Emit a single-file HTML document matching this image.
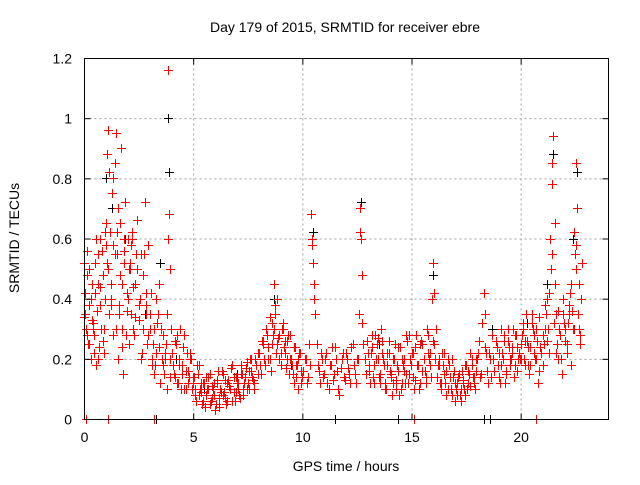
<!DOCTYPE html>
<html><head><meta charset="utf-8"><style>
body{margin:0;background:#fff;width:640px;height:480px;overflow:hidden}
text{font-family:"Liberation Sans",sans-serif;font-size:14px;fill:#000}
</style></head><body>
<svg id="chart" width="640" height="480" xmlns="http://www.w3.org/2000/svg">
<rect width="640" height="480" fill="#fff"/>
<text x="345" y="32" text-anchor="middle">Day 179 of 2015, SRMTID for receiver ebre</text>
<g id="grid"></g>
<g id="black" shape-rendering="crispEdges"></g>
<g id="red" shape-rendering="crispEdges"></g>
<rect x="84.5" y="58.5" width="524" height="361" fill="none" stroke="#000"/>
<g id="ticks"></g>
<text x="346" y="471" text-anchor="middle">GPS time / hours</text>
<text transform="translate(19,238) rotate(-90)" text-anchor="middle">SRMTID / TECUs</text>
</svg>
<script>
const xTicks=[0,5,10,15,20];
const yTicks=[0,0.2,0.4,0.6,0.8,1,1.2];
const yTickLabels=["0","0.2","0.4","0.6","0.8","1","1.2"];
const redX=[0,0.05,0.1,0.15,0.2,0.25,0.3,0.35,0.4,0.45,0.5,0.55,0.6,0.65,0.7,0.75,0.8,0.85,0.9,0.95,1.0,1.05,1.1,1.15,1.2,1.25,1.3,1.35,1.4,1.45,1.5,1.55,1.6,1.65,1.7,1.75,1.8,1.85,1.9,1.95,2.0,2.05,2.1,2.15,2.2,2.25,2.3,2.4,2.5,2.6,2.7,2.8,2.85,2.9,3.0,3.1,3.2,3.3,3.4,3.5,3.6,3.7,3.8,3.85,3.9,3.95,4.0,4.1,4.2,4.3,4.4,4.5,4.6,4.7,4.8,4.9,5.0,5.1,5.2,5.3,5.4,5.5,5.6,5.7,5.8,5.9,6.0,6.1,6.2,6.3,6.4,6.5,6.6,6.7,6.8,6.9,7.0,7.1,7.2,7.3,7.4,7.5,7.6,7.7,7.8,7.9,8.0,8.1,8.2,8.3,8.4,8.5,8.6,8.7,8.75,8.8,8.9,9.0,9.1,9.2,9.3,9.4,9.5,9.6,9.7,9.8,9.9,10.0,10.1,10.2,10.3,10.4,10.45,10.5,10.55,10.6,10.7,10.8,10.9,11.0,11.1,11.2,11.3,11.4,11.5,11.6,11.7,11.8,11.9,12.0,12.1,12.2,12.3,12.4,12.5,12.6,12.65,12.7,12.75,12.8,12.9,13.0,13.1,13.2,13.3,13.4,13.5,13.6,13.7,13.8,13.9,14.0,14.1,14.2,14.3,14.4,14.5,14.6,14.7,14.8,14.9,15.0,15.1,15.2,15.3,15.4,15.5,15.6,15.7,15.8,15.9,16.0,16.05,16.1,16.2,16.3,16.4,16.5,16.6,16.7,16.8,16.9,17.0,17.1,17.2,17.3,17.4,17.5,17.6,17.7,17.8,17.9,18.0,18.1,18.2,18.3,18.35,18.4,18.5,18.6,18.7,18.8,18.9,19.0,19.1,19.2,19.3,19.4,19.5,19.6,19.7,19.8,19.9,20.0,20.1,20.2,20.3,20.4,20.5,20.6,20.7,20.8,20.9,21.0,21.1,21.2,21.3,21.4,21.45,21.5,21.55,21.6,21.7,21.8,21.9,22.0,22.1,22.2,22.3,22.4,22.5,22.55,22.6,22.65,22.7,22.8,0.1,1.1,3.2,15.1,20.7];
const redY=[0.52,0.35,0.3,0.56,0.25,0.38,0.2,0.45,0.32,0.28,0.42,0.18,0.36,0.55,0.24,0.6,0.3,0.48,0.22,0.4,0.58,0.88,0.96,0.35,0.62,0.45,0.75,0.28,0.85,0.95,0.55,0.2,0.38,0.65,0.9,0.3,0.15,0.52,0.72,0.42,0.6,0.25,0.5,0.35,0.62,0.44,0.28,0.55,0.33,0.2,0.48,0.72,0.38,0.25,0.3,0.18,0.15,0.22,0.35,0.12,0.28,0.2,0.1,1.16,0.68,0.5,0.3,0.15,0.25,0.12,0.3,0.18,0.1,0.22,0.14,0.2,0.12,0.08,0.15,0.1,0.05,0.12,0.08,0.14,0.06,0.1,0.03,0.12,0.07,0.16,0.09,0.05,0.13,0.1,0.18,0.06,0.12,0.08,0.15,0.1,0.17,0.12,0.2,0.14,0.1,0.18,0.22,0.15,0.25,0.18,0.28,0.2,0.32,0.45,0.38,0.22,0.27,0.18,0.3,0.22,0.26,0.15,0.2,0.12,0.18,0.1,0.22,0.14,0.2,0.12,0.25,0.68,0.6,0.52,0.45,0.35,0.18,0.12,0.2,0.15,0.22,0.1,0.18,0.13,0.24,0.16,0.08,0.2,0.14,0.22,0.17,0.12,0.25,0.15,0.2,0.35,0.7,0.6,0.48,0.25,0.15,0.22,0.12,0.28,0.18,0.25,0.14,0.3,0.2,0.1,0.22,0.16,0.08,0.2,0.13,0.24,0.1,0.18,0.12,0.26,0.15,0.22,0.1,0.28,0.18,0.12,0.25,0.16,0.3,0.2,0.14,0.52,0.42,0.3,0.18,0.12,0.22,0.15,0.08,0.18,0.1,0.14,0.06,0.12,0.08,0.16,0.1,0.18,0.12,0.22,0.14,0.1,0.2,0.26,0.15,0.42,0.35,0.22,0.12,0.2,0.28,0.16,0.24,0.14,0.3,0.2,0.12,0.26,0.18,0.22,0.14,0.28,0.2,0.25,0.32,0.18,0.26,0.15,0.35,0.22,0.3,0.12,0.24,0.18,0.3,0.4,0.22,0.5,0.85,0.94,0.65,0.35,0.2,0.28,0.15,0.32,0.22,0.38,0.18,0.3,0.55,0.85,0.7,0.45,0.25,0.52,0,0,0,0,0];
const redX2=[0.05,0.15,0.25,0.35,0.45,0.55,0.65,0.75,0.85,0.95,1.05,1.15,1.25,1.35,1.45,1.55,1.65,1.75,1.85,1.95,2.05,2.15,2.25,2.35,2.45,2.55,2.65,2.75,2.85,2.95,3.05,3.15,3.25,3.35,3.45,3.55,3.65,3.75,3.85,3.95,
4.05,4.15,4.25,4.35,4.45,4.55,4.65,4.75,4.85,4.95,5.05,5.15,5.25,5.35,5.45,5.55,5.65,5.75,5.85,5.95,6.05,6.15,6.25,6.35,6.45,6.55,6.65,6.75,6.85,6.95,7.05,7.15,7.25,7.35,7.45,7.55,7.65,7.75,7.85,7.95,
8.05,8.15,8.25,8.35,8.45,8.55,8.65,8.75,8.85,8.95,9.05,9.15,9.25,9.35,9.45,9.55,9.65,9.75,9.85,9.95,10.05,10.15,10.25,10.35,10.45,10.55,10.65,10.75,10.85,10.95,11.05,11.15,11.25,11.35,11.45,11.55,11.65,11.75,11.85,11.95,
12.05,12.15,12.25,12.35,12.45,12.55,12.65,12.75,12.85,12.95,13.05,13.15,13.25,13.35,13.45,13.55,13.65,13.75,13.85,13.95,14.05,14.15,14.25,14.35,14.45,14.55,14.65,14.75,14.85,14.95,15.05,15.15,15.25,15.35,15.45,15.55,15.65,15.75,15.85,15.95,
16.05,16.15,16.25,16.35,16.45,16.55,16.65,16.75,16.85,16.95,17.05,17.15,17.25,17.35,17.45,17.55,17.65,17.75,17.85,17.95,18.05,18.15,18.25,18.35,18.45,18.55,18.65,18.75,18.85,18.95,19.05,19.15,19.25,19.35,19.45,19.55,19.65,19.75,19.85,19.95,
20.05,20.15,20.25,20.35,20.45,20.55,20.65,20.75,20.85,20.95,21.05,21.15,21.25,21.35,21.45,21.55,21.65,21.75,21.85,21.95,22.05,22.15,22.25,22.35,22.45,22.55,22.65,22.75];
const redY2=[0.42,0.28,0.5,0.33,0.22,0.6,0.45,0.38,0.26,0.62,0.52,0.82,0.4,0.58,0.3,0.7,0.48,0.24,0.6,0.36,0.5,0.58,0.3,0.45,0.66,0.4,0.22,0.55,0.35,0.28,0.42,0.25,0.18,0.32,0.45,0.2,0.15,0.25,0.6,0.2,
0.22,0.14,0.28,0.18,0.1,0.24,0.16,0.12,0.2,0.1,0.14,0.06,0.18,0.09,0.12,0.04,0.1,0.15,0.07,0.12,0.05,0.16,0.1,0.08,0.13,0.06,0.11,0.17,0.09,0.14,0.1,0.07,0.15,0.12,0.19,0.1,0.16,0.13,0.2,0.15,
0.18,0.26,0.2,0.3,0.24,0.16,0.28,0.35,0.25,0.2,0.3,0.24,0.17,0.28,0.2,0.15,0.24,0.18,0.22,0.12,0.16,0.2,0.14,0.18,0.58,0.4,0.25,0.16,0.22,0.14,0.2,0.12,0.18,0.24,0.15,0.2,0.1,0.17,0.22,0.13,
0.2,0.15,0.24,0.18,0.12,0.2,0.62,0.32,0.2,0.26,0.16,0.22,0.14,0.28,0.2,0.12,0.26,0.18,0.1,0.22,0.15,0.12,0.25,0.18,0.08,0.2,0.16,0.28,0.12,0.2,0.14,0.24,0.18,0.1,0.26,0.2,0.14,0.28,0.22,0.4,
0.25,0.14,0.2,0.1,0.18,0.12,0.2,0.14,0.08,0.16,0.1,0.14,0.06,0.12,0.18,0.1,0.15,0.2,0.12,0.16,0.22,0.14,0.32,0.24,0.16,0.22,0.14,0.2,0.26,0.18,0.12,0.22,0.28,0.16,0.24,0.2,0.3,0.18,0.24,0.2,
0.28,0.2,0.35,0.24,0.18,0.3,0.2,0.26,0.16,0.22,0.25,0.35,0.3,0.6,0.78,0.45,0.25,0.3,0.2,0.35,0.26,0.32,0.42,0.36,0.62,0.5,0.3,0.4];
const redX3=[0.02,0.12,0.22,0.32,0.42,0.52,0.62,0.72,0.82,0.92,1.02,1.12,1.22,1.32,1.42,1.52,1.62,1.72,1.82,1.92,2.02,2.12,2.22,2.32,2.42,2.52,2.62,2.72,2.82,2.92,3.02,3.12,3.22,3.32,3.42,3.52,3.62,3.72,3.82,3.92,
8.02,8.12,8.22,8.32,8.42,8.52,8.62,8.72,8.82,8.92,9.02,9.12,9.22,9.32,9.42,9.52,9.62,9.72,9.82,9.92,
19.02,19.12,19.22,19.32,19.42,19.52,19.62,19.72,19.82,19.92,20.02,20.12,20.22,20.32,20.42,20.52,20.62,20.72,20.82,20.92,21.02,21.12,21.22,21.32,21.42,21.52,21.62,21.72,21.82,21.92,22.02,22.12,22.22,22.32,22.42,22.52,22.62,22.72];
const redY3=[0.34,0.48,0.25,0.4,0.3,0.52,0.2,0.44,0.56,0.3,0.65,0.5,0.38,0.8,0.55,0.62,0.35,0.45,0.56,0.28,0.4,0.52,0.6,0.34,0.5,0.38,0.55,0.3,0.42,0.58,0.35,0.2,0.3,0.4,0.24,0.3,0.18,0.22,0.35,0.14,
0.22,0.15,0.26,0.3,0.2,0.34,0.25,0.3,0.4,0.28,0.22,0.32,0.26,0.2,0.28,0.18,0.24,0.14,0.2,0.16,
0.22,0.18,0.26,0.15,0.3,0.2,0.24,0.28,0.16,0.22,0.2,0.3,0.26,0.18,0.24,0.32,0.28,0.2,0.34,0.22,0.28,0.38,0.26,0.42,0.55,0.32,0.22,0.36,0.28,0.4,0.3,0.25,0.35,0.45,0.3,0.58,0.35,0.28];
const redX4=[4.07,4.17,4.27,4.37,4.47,4.57,4.67,4.77,4.87,4.97,5.07,5.17,5.27,5.37,5.47,5.57,5.67,5.77,5.87,5.97,6.07,6.17,6.27,6.37,6.47,6.57,6.67,6.77,6.87,6.97,7.07,7.17,7.27,7.37,7.47,7.57,7.67,7.77,7.87,7.97,
13.07,13.17,13.27,13.37,13.47,13.57,13.67,13.77,13.87,13.97,14.07,14.17,14.27,14.37,14.47,14.57,14.67,14.77,14.87,14.97,15.07,15.17,15.27,15.37,15.47,15.57,15.67,15.77,15.87,15.97,16.07,16.17,16.27,16.37,16.47,16.57,16.67,16.77,16.87,16.97,17.07,17.17,17.27,17.37,17.47,17.57,17.67,17.77,17.87,17.97];
const redY4=[0.18,0.26,0.12,0.2,0.15,0.28,0.1,0.16,0.22,0.14,0.1,0.18,0.08,0.12,0.06,0.14,0.1,0.05,0.11,0.08,0.13,0.04,0.09,0.15,0.07,0.12,0.1,0.06,0.14,0.09,0.12,0.18,0.08,0.14,0.1,0.16,0.2,0.12,0.18,0.22,
0.18,0.24,0.12,0.2,0.27,0.15,0.22,0.12,0.18,0.26,0.14,0.2,0.1,0.16,0.24,0.12,0.2,0.15,0.28,0.18,0.22,0.13,0.18,0.25,0.16,0.2,0.12,0.22,0.18,0.26,0.2,0.14,0.18,0.12,0.22,0.16,0.1,0.14,0.2,0.12,0.08,0.15,0.1,0.13,0.08,0.16,0.11,0.18,0.14,0.2];
const blackX=[0.3,1.0,1.3,1.9,2.8,3.5,3.85,3.9,4.2,5.5,7.0,8.7,9.5,10.5,12.7,13.5,16.0,18.7,20.3,21.2,21.5,22.6,22.4,11.5,14.4,18.3,18.6,3.3];
const blackY=[0.4,0.8,0.7,0.6,0.35,0.52,1.0,0.82,0.2,0.1,0.15,0.4,0.18,0.62,0.72,0.25,0.48,0.3,0.32,0.45,0.88,0.82,0.6,0,0,0,0,0];
const NS="http://www.w3.org/2000/svg";
const X0=84.5,X1=608.5,Y0=419.5,Y1=58.5,XMAX=24,YMAX=1.2;
function sx(v){return X0+(X1-X0)*v/XMAX;}
function sy(v){return Y0-(Y0-Y1)*v/YMAX;}
function mk(tag,attrs,parent){const e=document.createElementNS(NS,tag);for(const k in attrs)e.setAttribute(k,attrs[k]);parent.appendChild(e);return e;}
const grid=document.getElementById('grid'),ticks=document.getElementById('ticks');
xTicks.forEach(v=>{const x=sx(v);
 if(v>0){const g=mk('line',{x1:x,x2:x,y1:Y1,y2:Y0,stroke:'#a0a0a0','stroke-dasharray':'2,3'},grid);
 
 }
 mk('line',{x1:x,x2:x,y1:Y0,y2:Y0-6,stroke:'#000'},ticks);mk('line',{x1:x,x2:x,y1:Y1,y2:Y1+6,stroke:'#000'},ticks);
 const t=mk('text',{x:x,y:442,'text-anchor':'middle'},ticks);t.textContent=String(v);
 
 });
yTicks.forEach((v,i)=>{const y=sy(v);
 if(v>0&&v<1.2){const g=mk('line',{x1:X0,x2:X1,y1:y,y2:y,stroke:'#a0a0a0','stroke-dasharray':'2,3'},grid);
 
 }
 mk('line',{x1:X0,x2:X0+6,y1:y,y2:y,stroke:'#000'},ticks);mk('line',{x1:X1,x2:X1-6,y1:y,y2:y,stroke:'#000'},ticks);
 const t=mk('text',{x:72,y:y+5,'text-anchor':'end'},ticks);t.textContent=yTickLabels[i];
 
 });
function plus(g,x,y,c){x=Math.floor(x);y=Math.floor(y);
 const p=mk('path',{d:`M${x-4},${y}h9v1h-9zM${x},${y-4}h1v9h-1z`,fill:c,stroke:'none'},g);
 
 }
const bg=document.getElementById('black'),rg=document.getElementById('red');
blackX.forEach((v,i)=>plus(bg,sx(v),sy(blackY[i]),'#000'));
redX.forEach((v,i)=>plus(rg,sx(v),sy(redY[i]),'#f00'));
redX2.forEach((v,i)=>plus(rg,sx(v),sy(redY2[i]),'#f00'));
redX3.forEach((v,i)=>plus(rg,sx(v),sy(redY3[i]),'#f00'));
redX4.forEach((v,i)=>plus(rg,sx(v),sy(redY4[i]),'#f00'));
</script>
</body></html>
